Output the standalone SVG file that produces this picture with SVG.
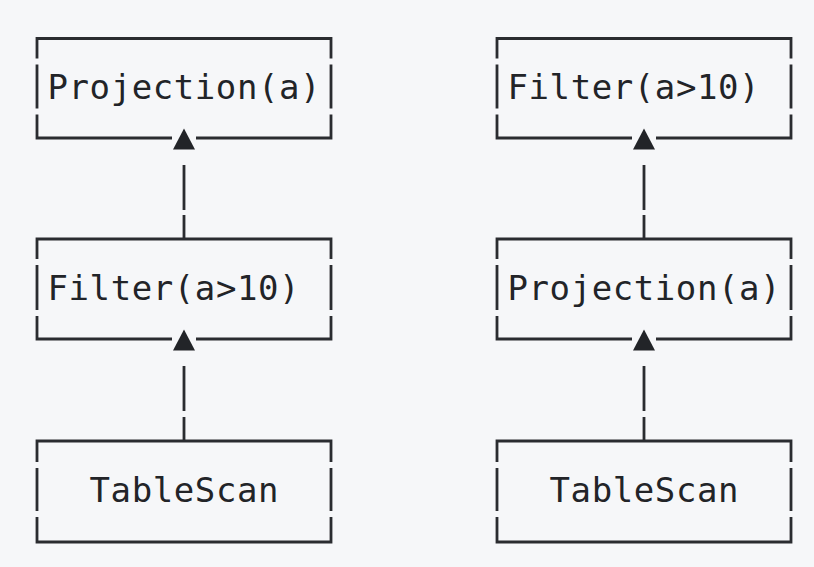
<svg xmlns="http://www.w3.org/2000/svg" xmlns:xlink="http://www.w3.org/1999/xlink" width="814" height="567" viewBox="0 0 814 567">
  <style>
    .edge { fill: none; stroke: #2a2c30; stroke-width: 2.8; stroke-linecap: butt; stroke-linejoin: miter; }
    .label { font-family: "DejaVu Sans Mono", "Liberation Mono", monospace; font-size: 34px; fill: #222428; }
    .head { fill: #222428; }
  </style>
  <defs>
    <!-- upward arrowhead, apex at (0,0) -->
    <polygon id="up" class="head" points="0,0 11,21 -11,21"/>
  </defs>

  <rect x="0" y="0" width="814" height="567" fill="#f6f7f9"/>

  <!-- Left plan -->
  <g id="left-projection">
    <path class="edge" d="M37,58.5 V38.5 H331 V58.5 M37,64.5 V108.5 M331,64.5 V108.5 M37,114.5 V138 H172 M196,138 H331 V114.5"/>
    <text class="label" x="47.5" y="98.5" textLength="273" lengthAdjust="spacing">Projection(a)</text>
  </g>
  <g id="left-filter">
    <path class="edge" d="M37,259 V239 H331 V259 M37,265 V310 M331,265 V310 M37,316 V339 H172 M196,339 H331 V316"/>
    <text class="label" x="47.5" y="300" textLength="252" lengthAdjust="spacing">Filter(a&gt;10)</text>
  </g>
  <g id="left-tablescan">
    <path class="edge" d="M37,462 V441 H331 V462 M37,468 V511 M331,468 V511 M37,517 V542 H331 V517"/>
    <text class="label" x="184" y="502" text-anchor="middle" textLength="189" lengthAdjust="spacing">TableScan</text>
  </g>

  <!-- Right plan -->
  <g id="right-filter">
    <path class="edge" d="M497,58.5 V38.5 H791 V58.5 M497,64.5 V108.5 M791,64.5 V108.5 M497,114.5 V138 H632 M656,138 H791 V114.5"/>
    <text class="label" x="507.5" y="98.5" textLength="252" lengthAdjust="spacing">Filter(a&gt;10)</text>
  </g>
  <g id="right-projection">
    <path class="edge" d="M497,259 V239 H791 V259 M497,265 V310 M791,265 V310 M497,316 V339 H632 M656,339 H791 V316"/>
    <text class="label" x="507.5" y="300" textLength="273" lengthAdjust="spacing">Projection(a)</text>
  </g>
  <g id="right-tablescan">
    <path class="edge" d="M497,462 V441 H791 V462 M497,468 V511 M791,468 V511 M497,517 V542 H791 V517"/>
    <text class="label" x="644" y="502" text-anchor="middle" textLength="189" lengthAdjust="spacing">TableScan</text>
  </g>

  <!-- Connectors: child box up to parent box -->
  <g id="connectors">
    <path class="edge" d="M184,239 V215 M184,210 V165"/>
    <use xlink:href="#up" x="184" y="128.5"/>
    <path class="edge" d="M184,441 V417 M184,411 V366"/>
    <use xlink:href="#up" x="184" y="329.5"/>
    <path class="edge" d="M644,239 V215 M644,210 V165"/>
    <use xlink:href="#up" x="644" y="128.5"/>
    <path class="edge" d="M644,441 V417 M644,411 V366"/>
    <use xlink:href="#up" x="644" y="329.5"/>
  </g>
</svg>
